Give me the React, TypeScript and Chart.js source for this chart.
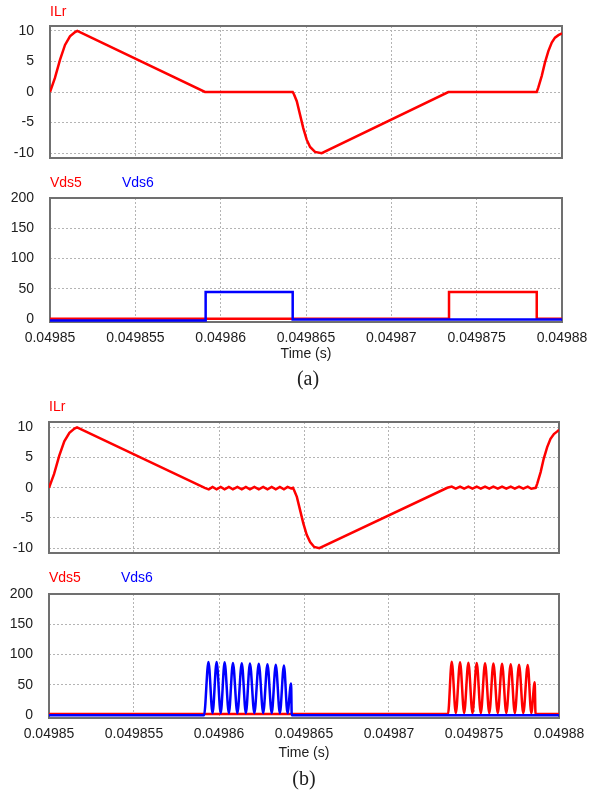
import React, { useEffect, useRef } from "react";
import { Chart, registerables } from "chart.js";

Chart.register(...registerables);

// ---------- data ----------
// Sample times are given in microseconds after the window start T0 (seconds).
const T0 = 0.04985;
const X_MIN = 0.04985;
const X_MAX = 0.04988;
const xTickValues = [0.04985, 0.049855, 0.04986, 0.049865, 0.04987, 0.049875, 0.04988];
const xTickLabels = ["0.04985", "0.049855", "0.04986", "0.049865", "0.04987", "0.049875", "0.04988"];
const iTickValues = [-10, -5, 0, 5, 10];
const iTickLabels = ["-10", "-5", "0", "5", "10"];
const vTickValues = [0, 50, 100, 150, 200];
const vTickLabels = ["0", "50", "100", "150", "200"];

// (a) resonant current ILr
const ilrA_us = [0, 0.29, 0.59, 0.88, 1.17, 1.47, 1.6, 9.08, 14.22, 14.3, 14.46, 14.65, 14.84, 15.04, 15.24, 15.53, 15.92, 23.34, 28.52, 28.61, 28.81, 29.0, 29.2, 29.4, 29.59, 29.79, 30];
const ilrA_val = [0, 2.3, 5.3, 7.7, 9.1, 9.8, 10.0, 0, 0, -0.4, -1.5, -3.7, -5.9, -7.8, -9.0, -9.8, -10.0, 0, 0, 0.7, 2.6, 4.8, 6.7, 8.1, 8.9, 9.3, 9.6];

// (a) Vds5 / Vds6
const vds5A_us = [0, 23.38, 23.38, 28.52, 28.52, 30];
const vds5A_val = [1, 1, 45, 45, 1, 1];
const vds6A_us = [0, 9.12, 9.12, 14.22, 14.22, 30];
const vds6A_val = [-2, -2, 45, 45, -0.5, -0.5];

// (b) resonant current ILr (with ringing in the flat intervals)
const ilrB_us = [0, 0.3, 0.6, 0.9, 1.2, 1.5, 1.65, 9.16, 9.4, 9.62, 9.86, 10.1, 10.33, 10.58, 10.82, 11.08, 11.34, 11.58, 11.82, 12.08, 12.34, 12.6, 12.85, 13.1, 13.34, 13.58, 13.82, 14.03, 14.24, 14.35, 14.42, 14.58, 14.77, 14.96, 15.16, 15.36, 15.6, 15.9, 23.43, 23.69, 23.93, 24.18, 24.42, 24.67, 24.91, 25.16, 25.4, 25.65, 25.9, 26.14, 26.4, 26.65, 26.9, 27.16, 27.4, 27.65, 27.9, 28.16, 28.37, 28.63, 28.72, 28.92, 29.1, 29.3, 29.5, 29.7, 29.88, 30];
const ilrB_val = [0, 2.3, 5.3, 7.7, 9.1, 9.8, 10.0, 0, -0.25, 0.15, -0.25, 0.15, -0.25, 0.15, -0.25, 0.15, -0.25, 0.15, -0.25, 0.15, -0.25, 0.15, -0.25, 0.15, -0.25, 0.15, -0.25, 0.15, -0.1, 0, -0.4, -1.5, -3.7, -5.9, -7.8, -9.0, -9.8, -10.0, 0, 0.2, -0.15, 0.2, -0.15, 0.2, -0.15, 0.2, -0.15, 0.2, -0.15, 0.2, -0.15, 0.2, -0.15, 0.2, -0.15, 0.2, -0.15, 0.2, -0.15, 0, 0.7, 2.6, 4.8, 6.7, 8.1, 8.9, 9.3, 9.6];

// (b) Vds5 / Vds6 (ringing)
const vds5B_us = [0, 23.47, 23.69, 23.93, 24.18, 24.42, 24.67, 24.91, 25.16, 25.4, 25.65, 25.9, 26.14, 26.4, 26.65, 26.9, 27.16, 27.4, 27.65, 27.9, 28.16, 28.37, 28.57, 28.62, 30];
const vds5B_val = [1.5, 1.5, 88, 3, 87, 3, 86.5, 3, 86, 3, 85.5, 3, 85, 3, 84.5, 3, 84, 3, 83, 3, 82.5, 3, 54, 1.5, 1.5];
const vds6B_us = [0, 9.12, 9.38, 9.62, 9.86, 10.1, 10.33, 10.58, 10.82, 11.08, 11.34, 11.58, 11.82, 12.08, 12.34, 12.6, 12.85, 13.1, 13.34, 13.58, 13.82, 14.03, 14.24, 14.28, 30];
const vds6B_val = [-0.5, -0.5, 87.5, 3, 87.5, 3, 87, 3, 86, 3, 85.5, 3, 85, 3, 84.5, 3, 84, 3, 83, 3, 82, 3, 52, -0.5, -0.5];

// ---------- styling ----------
const W = 601;
const RED = "#ff0000";
const BLUE = "#0000ff";
const GRID = "#b4b4b4";
const FRAME = "#707070";
const TXT = "#202020";
const SANS = '"Liberation Sans", Arial, sans-serif';
const SERIF = '"Liberation Serif", "Times New Roman", serif';

const framePlugin = {
  id: "frame",
  beforeDatasetsDraw(chart: any) {
    const { ctx, chartArea: a } = chart;
    ctx.save();
    ctx.strokeStyle = FRAME;
    ctx.lineWidth = 2;
    ctx.strokeRect(a.left, a.top, a.right - a.left, a.bottom - a.top);
    ctx.restore();
  },
};

type Series = { us: number[]; val: number[]; color: string; smooth: boolean };
type PanelProps = {
  top: number;
  height: number;
  plotLeft: number;
  plotRight: number;
  plotTop: number;
  plotBottom: number;
  yMin: number;
  yMax: number;
  yTicks: number[];
  yLabels: string[];
  showX: boolean;
  series: Series[];
};

function Panel(p: PanelProps) {
  const ref = useRef<HTMLCanvasElement>(null);
  useEffect(() => {
    const chart = new Chart(ref.current as HTMLCanvasElement, {
      type: "line",
      data: {
        datasets: p.series.map((s) => ({
          data: s.us.map((u, i) => ({ x: T0 + u * 1e-6, y: s.val[i] })),
          borderColor: s.color,
          backgroundColor: s.color,
          borderWidth: 2.5,
          pointRadius: 0,
          fill: false,
          tension: 0,
          cubicInterpolationMode: s.smooth ? "monotone" : "default",
        })),
      },
      options: {
        animation: false,
        responsive: false,
        maintainAspectRatio: false,
        events: [],
        layout: { padding: { left: 0, right: W - p.plotRight, top: p.plotTop - p.top, bottom: 0 } },
        plugins: { legend: { display: false }, tooltip: { enabled: false } },
        scales: {
          x: {
            type: "linear",
            min: X_MIN,
            max: X_MAX,
            afterBuildTicks: (s: any) => {
              s.ticks = xTickValues.map((v) => ({ value: v }));
            },
            afterFit: (s: any) => {
              s.height = p.top + p.height - p.plotBottom;
            },
            grid: { color: GRID, lineWidth: 1, drawTicks: false },
            border: { display: false, dash: [2, 2] },
            ticks: {
              display: p.showX,
              padding: 8,
              color: TXT,
              font: { family: SANS, size: 14 },
              maxRotation: 0,
              autoSkip: false,
              callback: (_v: any, i: number) => xTickLabels[i],
            },
          },
          y: {
            type: "linear",
            min: p.yMin,
            max: p.yMax,
            afterBuildTicks: (s: any) => {
              s.ticks = p.yTicks.map((v) => ({ value: v }));
            },
            afterFit: (s: any) => {
              s.width = p.plotLeft;
            },
            grid: { color: GRID, lineWidth: 1, drawTicks: false },
            border: { display: false, dash: [2, 2] },
            ticks: {
              padding: 16,
              color: TXT,
              font: { family: SANS, size: 14 },
              autoSkip: false,
              callback: (_v: any, i: number) => p.yLabels[i],
            },
          },
        },
      } as any,
      plugins: [framePlugin],
    });
    return () => chart.destroy();
  }, []);
  return (
    <canvas
      ref={ref}
      width={W}
      height={p.height}
      style={{ position: "absolute", left: 0, top: p.top, width: W, height: p.height }}
    />
  );
}

function Text(props: { x: number; cy: number; text: string; color?: string; center?: boolean; serif?: boolean; size?: number }) {
  const size = props.size ?? 14;
  const lh = Math.round(size * 1.2);
  const style: any = {
    position: "absolute",
    top: props.cy - lh / 2,
    lineHeight: lh + "px",
    fontSize: size,
    fontFamily: props.serif ? SERIF : SANS,
    color: props.color ?? TXT,
    whiteSpace: "nowrap",
  };
  if (props.center) {
    style.left = props.x - 100;
    style.width = 200;
    style.textAlign = "center";
  } else {
    style.left = props.x;
  }
  return <div style={style}>{props.text}</div>;
}

export default function App() {
  return (
    <div style={{ position: "absolute", left: 0, top: 0, width: W, height: 790, background: "#fff", overflow: "hidden" }}>
      <Panel
        top={0}
        height={190}
        plotLeft={50}
        plotRight={562}
        plotTop={26}
        plotBottom={158}
        yMin={-10.8}
        yMax={10.8}
        yTicks={iTickValues}
        yLabels={iTickLabels}
        showX={false}
        series={[{ us: ilrA_us, val: ilrA_val, color: RED, smooth: false }]}
      />
      <Panel
        top={160}
        height={190}
        plotLeft={50}
        plotRight={562}
        plotTop={198}
        plotBottom={322}
        yMin={-4.5}
        yMax={200}
        yTicks={vTickValues}
        yLabels={vTickLabels}
        showX={true}
        series={[
          { us: vds6A_us, val: vds6A_val, color: BLUE, smooth: false },
          { us: vds5A_us, val: vds5A_val, color: RED, smooth: false },
        ]}
      />
      <Panel
        top={380}
        height={200}
        plotLeft={49}
        plotRight={559}
        plotTop={422}
        plotBottom={553}
        yMin={-10.8}
        yMax={10.9}
        yTicks={iTickValues}
        yLabels={iTickLabels}
        showX={false}
        series={[{ us: ilrB_us, val: ilrB_val, color: RED, smooth: false }]}
      />
      <Panel
        top={560}
        height={185}
        plotLeft={49}
        plotRight={559}
        plotTop={594}
        plotBottom={718}
        yMin={-5}
        yMax={200}
        yTicks={vTickValues}
        yLabels={vTickLabels}
        showX={true}
        series={[
          { us: vds6B_us, val: vds6B_val, color: BLUE, smooth: true },
          { us: vds5B_us, val: vds5B_val, color: RED, smooth: true },
        ]}
      />
      <Text x={50} cy={11} text="ILr" color={RED} />
      <Text x={50} cy={182} text="Vds5" color={RED} />
      <Text x={122} cy={182} text="Vds6" color={BLUE} />
      <Text x={306} cy={353} text="Time (s)" center />
      <Text x={308} cy={378} text="(a)" center serif size={20} />
      <Text x={49} cy={406} text="ILr" color={RED} />
      <Text x={49} cy={577} text="Vds5" color={RED} />
      <Text x={121} cy={577} text="Vds6" color={BLUE} />
      <Text x={304} cy={752} text="Time (s)" center />
      <Text x={304} cy={778} text="(b)" center serif size={20} />
    </div>
  );
}
